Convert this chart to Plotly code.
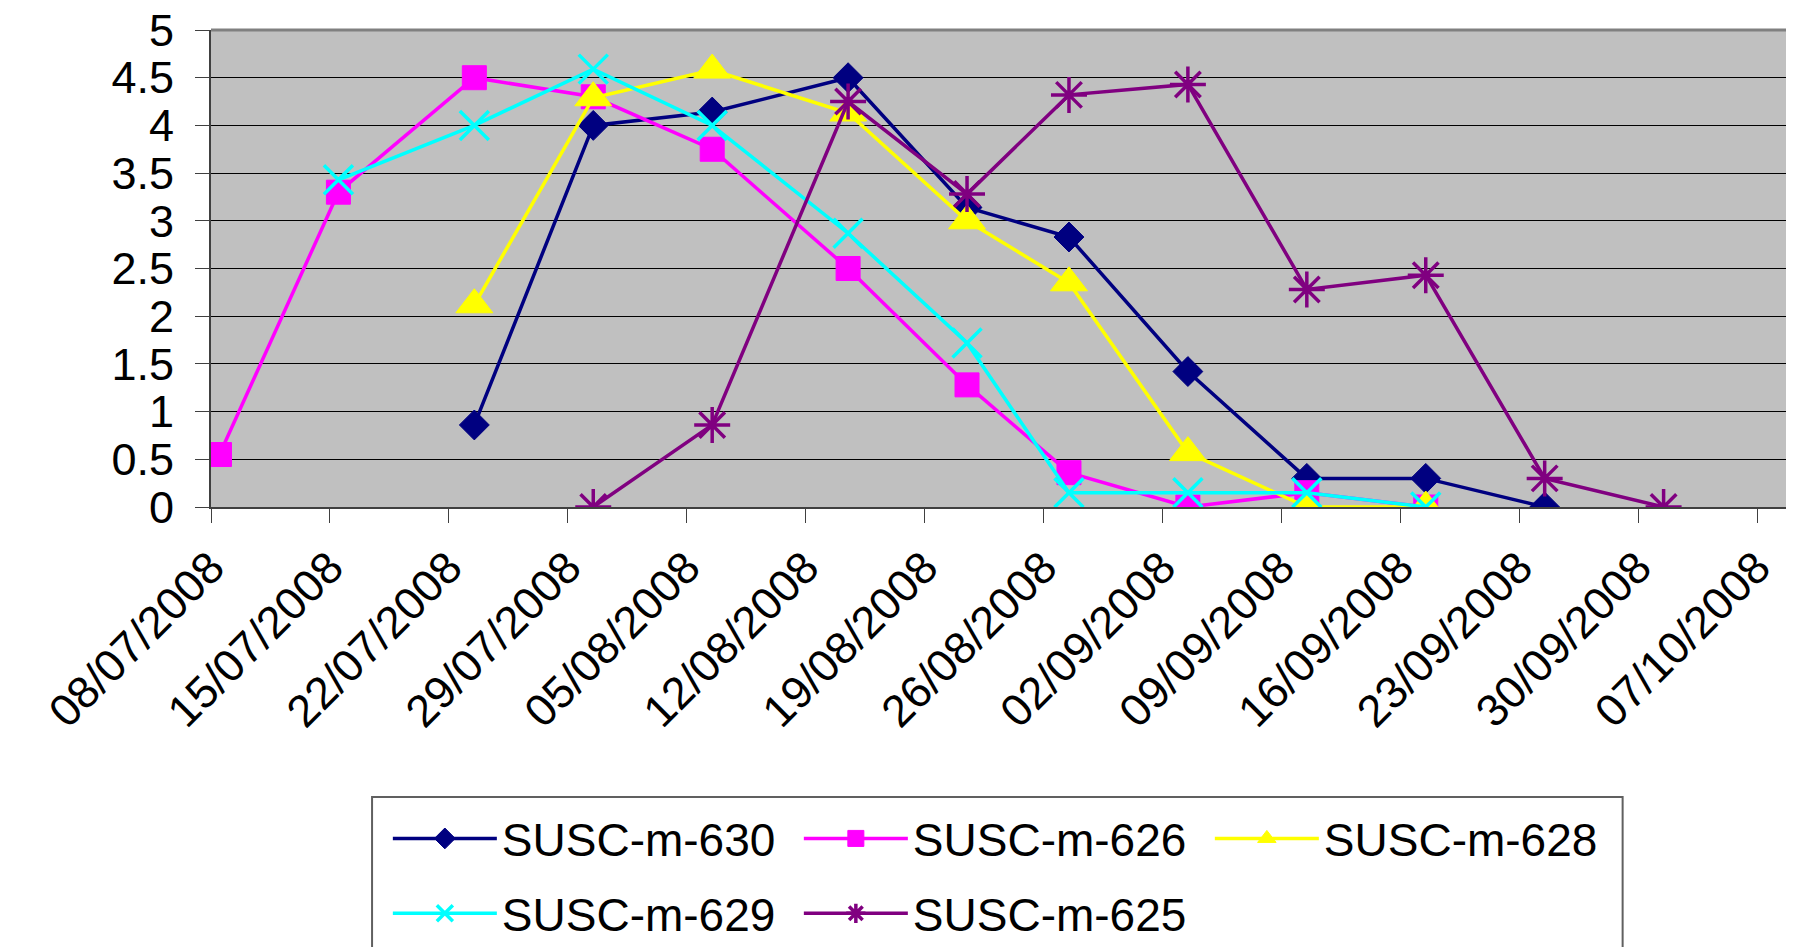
import plotly.graph_objects as go
import pandas as pd

# ---- data ----
dates = ["2008-07-08", "2008-07-15", "2008-07-23", "2008-07-30", "2008-08-06",
         "2008-08-14", "2008-08-21", "2008-08-27", "2008-09-03", "2008-09-10",
         "2008-09-17", "2008-09-24", "2008-10-01"]

susc_630 = [None, None, 0.86, 4.0, 4.14, 4.5, 3.14, 2.83, 1.42, 0.3, 0.3, 0.0, None]
susc_626 = [0.55, 3.3, 4.5, 4.3, 3.75, 2.5, 1.28, 0.36, 0.0, 0.15, 0.0, None, None]
susc_628 = [None, None, 2.12, 4.29, 4.58, 4.13, 3.0, 2.35, 0.57, 0.0, 0.0, None, None]
susc_629 = [None, 3.43, 4.0, 4.59, 4.0, 2.87, 1.72, 0.15, 0.15, 0.15, 0.0, None, None]
susc_625 = [None, None, None, 0.0, 0.86, 4.25, 3.28, 4.32, 4.43, 2.28, 2.43, 0.3, 0.0]

series_names = ["SUSC-m-630", "SUSC-m-626", "SUSC-m-628", "SUSC-m-629", "SUSC-m-625"]

tick_labels = ["08/07/2008", "15/07/2008", "22/07/2008", "29/07/2008", "05/08/2008",
               "12/08/2008", "19/08/2008", "26/08/2008", "02/09/2008", "09/09/2008",
               "16/09/2008", "23/09/2008", "30/09/2008", "07/10/2008"]

# ---- styling ----
FONT = "Arial, Liberation Sans, sans-serif"
TICK_SIZE = 45
LEGEND_SIZE = 46
styles = [
    dict(color="#000080", symbol="diamond", size=23, lw=1, legend="legend"),
    dict(color="#FF00FF", symbol="square", size=24, lw=1, legend="legend"),
    dict(color="#FFFF00", symbol="triangle-up", size=32, lw=1, legend="legend"),
    dict(color="#00FFFF", symbol="x-thin-open", size=29, lw=3.5, legend="legend2"),
    dict(color="#800080", symbol="asterisk-open", size=30, lw=3.5, legend="legend2"),
]
all_values = [susc_630, susc_626, susc_628, susc_629, susc_625]

x_dates = pd.to_datetime(dates)

fig = go.Figure()
for name, vals, st in zip(series_names, all_values, styles):
    fig.add_trace(go.Scatter(
        x=x_dates, y=vals, name=name, mode="lines+markers",
        line=dict(color=st["color"], width=3.5),
        marker=dict(symbol=st["symbol"], size=st["size"], color=st["color"],
                    line=dict(color=st["color"], width=st["lw"])),
        legend=st["legend"], connectgaps=False,
    ))

# Excel date axis places points in the middle of each day cell
tick_dates = pd.to_datetime(tick_labels, format="%d/%m/%Y")
half_day = pd.Timedelta(hours=12)
tickvals = [d - half_day for d in tick_dates]
x_min = tick_dates[0] - half_day
x_max = x_min + pd.Timedelta(days=92.94)

fig.update_layout(
    width=1794, height=947,
    margin=dict(l=203, r=12, t=22, b=448, autoexpand=False),
    paper_bgcolor="white",
    plot_bgcolor="#C0C0C0",
    font=dict(family=FONT, color="black"),
    showlegend=True,
    legend=dict(orientation="h", x=0.112, xanchor="left", y=-0.695, yanchor="middle",
                font=dict(size=LEGEND_SIZE, family=FONT), itemwidth=104, entrywidth=292,
                bgcolor="rgba(0,0,0,0)", borderwidth=0),
    legend2=dict(orientation="h", x=0.112, xanchor="left", y=-0.852, yanchor="middle",
                 font=dict(size=LEGEND_SIZE, family=FONT), itemwidth=104, entrywidth=292,
                 bgcolor="rgba(0,0,0,0)", borderwidth=0),
    shapes=[
        # legend frame
        dict(type="rect", xref="paper", yref="paper", x0=0.102, x1=0.894, y0=-0.97, y1=-0.608,
             line=dict(color="#606060", width=2), fillcolor="white", layer="below"),
        # plot area frame (top and right)
        dict(type="line", xref="paper", yref="paper", x0=0, x1=1, y0=1, y1=1,
             line=dict(color="#808080", width=3)),
        dict(type="line", xref="paper", yref="paper", x0=1, x1=1, y0=0, y1=1,
             line=dict(color="#808080", width=3)),
    ],
)

fig.update_xaxes(
    type="date", range=[x_min, x_max],
    tickmode="array", tickvals=tickvals, ticktext=tick_labels,
    tickangle=-45, tickfont=dict(size=TICK_SIZE, family=FONT),
    ticks="outside", ticklen=14, tickcolor="#404040", tickwidth=1,
    showgrid=False, showline=True, linecolor="#404040", linewidth=2,
    zeroline=False, automargin=False, ticklabeloverflow="allow",
)
fig.update_yaxes(
    range=[0, 5.0001], dtick=0.5, tick0=0,
    tickfont=dict(size=TICK_SIZE, family=FONT),
    ticks="outside", ticklen=14, tickcolor="#404040", tickwidth=1,
    ticklabelstandoff=12,
    showgrid=True, gridcolor="#000000", gridwidth=1,
    showline=True, linecolor="#404040", linewidth=2,
    zeroline=False, automargin=False, ticklabeloverflow="allow",
)

fig.write_html("out.html")
